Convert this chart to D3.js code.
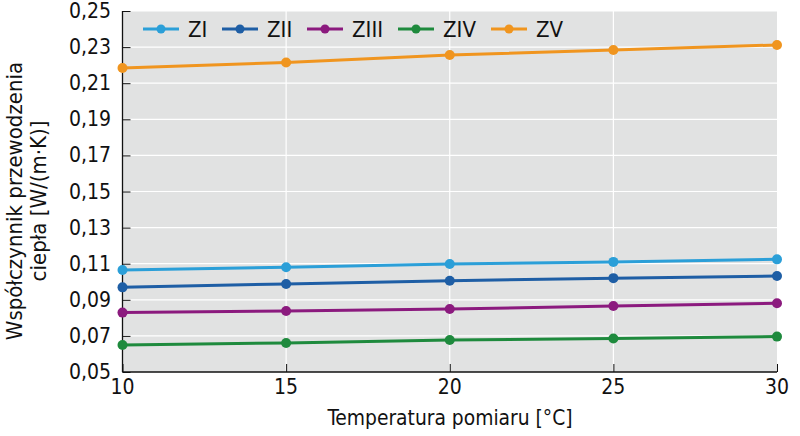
<!DOCTYPE html>
<html>
<head>
<meta charset="utf-8">
<script src="https://d3js.org/d3.v7.min.js"></script>
<style>
  body { margin: 0; background: #fff; }
  text { font-family: "DejaVu Sans Condensed", "Roboto", sans-serif; fill: #111; }
</style>
</head>
<body>
<script>
  // temperatures and conductivity of each sample
  var temps = [10, 15, 20, 25, 30];
  var names = ["ZI", "ZII", "ZIII", "ZIV", "ZV"];
  var zI   = [0.1065, 0.1080, 0.1098, 0.1110, 0.1124];
  var zII  = [0.0969, 0.0988, 0.1006, 0.1020, 0.1032];
  var zIII = [0.0829, 0.0838, 0.0849, 0.0866, 0.0881];
  var zIV  = [0.0650, 0.0661, 0.0677, 0.0686, 0.0696];
  var zV   = [0.2184, 0.2215, 0.2256, 0.2284, 0.2312];
  var yTicks = [0.05, 0.07, 0.09, 0.11, 0.13, 0.15, 0.17, 0.19, 0.21, 0.23, 0.25];
  var colors = ["#2b9fd8", "#1e5ea5", "#8b1a7e", "#1e8a3d", "#f0951f"];

  var series = [zI, zII, zIII, zIV, zV];

  var W = 800, H = 436;
  var svg = d3.select("body").append("svg")
    .attr("width", W)
    .attr("height", H);

  var x = d3.scaleLinear().domain([10, 30]).range([122.5, 777]);
  var y = d3.scaleLinear().domain([0.05, 0.25]).range([372, 11]);

  // plot background
  svg.append("rect")
    .attr("x", x(10)).attr("y", y(0.25))
    .attr("width", x(30) - x(10)).attr("height", y(0.05) - y(0.25))
    .attr("fill", "#e1e2e2");

  // grid
  svg.selectAll(".hg").data(yTicks.slice(1)).enter().append("line")
    .attr("x1", x(10)).attr("x2", x(30))
    .attr("y1", d => y(d)).attr("y2", d => y(d))
    .attr("stroke", "#fff").attr("stroke-width", 1.2);
  svg.selectAll(".vg").data(temps.slice(1, -1)).enter().append("line")
    .attr("x1", d => x(d)).attr("x2", d => x(d))
    .attr("y1", y(0.25)).attr("y2", y(0.05))
    .attr("stroke", "#fff").attr("stroke-width", 1.2);

  var fmt = d => d.toFixed(2).replace(".", ",");

  // y axis
  var yAxis = svg.append("g")
    .attr("transform", "translate(" + x(10) + ",0)")
    .call(d3.axisRight(y).tickValues(yTicks).tickSize(8).tickFormat(""));
  yAxis.select(".domain").attr("stroke", "#111").attr("stroke-width", 1.3).attr("d", "M0," + y(0.25) + "V" + y(0.05));
  yAxis.selectAll(".tick line").attr("stroke", "#111");
  svg.selectAll(".ylab").data(yTicks).enter().append("text")
    .attr("x", 111).attr("y", d => y(d) + 7)
    .attr("text-anchor", "end")
    .attr("font-size", 21)
    .text(fmt);

  // x axis
  var xAxis = svg.append("g")
    .attr("transform", "translate(0," + y(0.05) + ")")
    .call(d3.axisTop(x).tickValues(temps).tickSize(8).tickFormat(""));
  xAxis.select(".domain").attr("stroke", "#111").attr("stroke-width", 1.3).attr("d", "M" + x(10) + ",0H" + x(30));
  xAxis.selectAll(".tick line").attr("stroke", "#111");
  svg.selectAll(".xlab").data(temps).enter().append("text")
    .attr("x", d => x(d)).attr("y", 394)
    .attr("text-anchor", "middle")
    .attr("font-size", 21)
    .text(d => d);

  svg.append("text")
    .attr("x", 450).attr("y", 425)
    .attr("text-anchor", "middle")
    .attr("font-size", 20.8)
    .text("Temperatura pomiaru [°C]");

  var yt = svg.append("text")
    .attr("transform", "translate(22,201) rotate(-90)")
    .attr("text-anchor", "middle")
    .attr("font-size", 22);
  yt.append("tspan").attr("x", 0).attr("dy", 0).text("Współczynnik przewodzenia");
  yt.append("tspan").attr("x", 0).attr("dy", 24).text("ciepła [W/(m·K)]");

  // lines
  var line = d3.line().x((d, i) => x(temps[i])).y(d => y(d));
  series.forEach(function(s, k) {
    svg.append("path")
      .attr("d", line(s))
      .attr("fill", "none")
      .attr("stroke", colors[k])
      .attr("stroke-width", 3);
    svg.selectAll(".pt" + k).data(s).enter().append("circle")
      .attr("cx", (d, i) => x(temps[i]))
      .attr("cy", d => y(d))
      .attr("r", 5)
      .attr("fill", colors[k]);
  });

  // legend
  var legX = [143, 222, 307, 398, 491];
  var leg = svg.selectAll(".leg").data(names).enter().append("g")
    .attr("transform", (d, i) => "translate(" + legX[i] + ",29)");
  leg.append("line").attr("x1", 0).attr("x2", 36)
    .attr("stroke", (d, i) => colors[i]).attr("stroke-width", 3);
  leg.append("circle").attr("cx", 18).attr("r", 4.5)
    .attr("fill", (d, i) => colors[i]);
  leg.append("text").attr("x", 45).attr("y", 8)
    .attr("font-size", 22)
    .text(d => d);
</script>
</body>
</html>
